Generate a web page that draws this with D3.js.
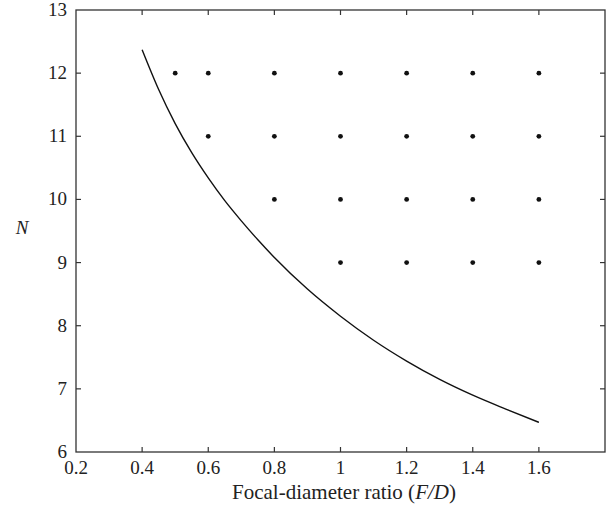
<!DOCTYPE html>
<html>
<head>
<meta charset="utf-8">
<script src="https://cdn.jsdelivr.net/npm/d3@7"></script>
<style>
  body { margin: 0; background: #fff; }
  text { font-family: "Liberation Serif", "DejaVu Serif", serif; fill: #222; }
</style>
</head>
<body>
<svg id="chart"></svg>
<script>
const width = 611;
const height = 516;

// curve: N vs F/D
const curveFD = [0.4, 0.45, 0.5, 0.55, 0.6, 0.65, 0.7, 0.75, 0.8, 0.9, 1.0, 1.1, 1.2, 1.3, 1.4, 1.5, 1.6];
const curveN = [12.37, 11.74, 11.20, 10.74, 10.34, 9.98, 9.66, 9.36, 9.08, 8.58, 8.15, 7.77, 7.44, 7.15, 6.90, 6.68, 6.47];

// feasible design points
const dotFD = [0.5, 0.6, 0.8, 1.0, 1.2, 1.4, 1.6,
               0.6, 0.8, 1.0, 1.2, 1.4, 1.6,
               0.8, 1.0, 1.2, 1.4, 1.6,
               1.0, 1.2, 1.4, 1.6];
const dotN = [12, 12, 12, 12, 12, 12, 12,
              11, 11, 11, 11, 11, 11,
              10, 10, 10, 10, 10,
              9, 9, 9, 9];

const xTicks = [0.2, 0.4, 0.6, 0.8, 1.0, 1.2, 1.4, 1.6];
const yTicks = [6, 7, 8, 9, 10, 11, 12, 13];

const svg = d3.select("#chart").attr("width", width).attr("height", height);

const x = d3.scaleLinear().domain([0.2, 1.8]).range([76, 605]);
const y = d3.scaleLinear().domain([6, 13]).range([452, 10]);

const axisColor = "#333";

// frame
svg.append("rect").attr("x", x(0.2)).attr("y", y(13)).attr("width", x(1.8) - x(0.2)).attr("height", y(6) - y(13))
  .attr("fill", "none").attr("stroke", axisColor).attr("stroke-width", 1.3);

// ticks (inward on all four sides)
const tl = 5;
svg.selectAll(".xtick-b").data(xTicks.slice(1)).enter().append("line").attr("class", "xtick-b")
  .attr("x1", d => x(d)).attr("x2", d => x(d)).attr("y1", y(6)).attr("y2", y(6) - tl).attr("stroke", axisColor).attr("stroke-width", 1.2);
svg.selectAll(".xtick-t").data(xTicks.slice(1)).enter().append("line").attr("class", "xtick-t")
  .attr("x1", d => x(d)).attr("x2", d => x(d)).attr("y1", y(13)).attr("y2", y(13) + tl).attr("stroke", axisColor).attr("stroke-width", 1.2);
svg.selectAll(".ytick-l").data(yTicks.slice(1, -1)).enter().append("line").attr("class", "ytick-l")
  .attr("x1", x(0.2)).attr("x2", x(0.2) + tl).attr("y1", d => y(d)).attr("y2", d => y(d)).attr("stroke", axisColor).attr("stroke-width", 1.2);
svg.selectAll(".ytick-r").data(yTicks.slice(1, -1)).enter().append("line").attr("class", "ytick-r")
  .attr("x1", x(1.8)).attr("x2", x(1.8) - tl).attr("y1", d => y(d)).attr("y2", d => y(d)).attr("stroke", axisColor).attr("stroke-width", 1.2);

// tick labels
svg.selectAll(".xlab").data(xTicks).enter().append("text").attr("class", "xlab")
  .attr("x", d => x(d)).attr("y", y(6) + 22).attr("text-anchor", "middle").style("font-size", "19px")
  .text(d => d === 1 ? "1" : d3.format(".1f")(d));
svg.selectAll(".ylab").data(yTicks).enter().append("text").attr("class", "ylab")
  .attr("x", x(0.2) - 9).attr("y", d => y(d) + 6).attr("text-anchor", "end").style("font-size", "19px")
  .text(d => d);

// axis titles
svg.append("text").attr("x", 22).attr("y", 234).attr("text-anchor", "middle")
  .style("font-size", "19px").style("font-style", "italic").text("N");
const xt = svg.append("text").attr("x", 344).attr("y", 499).attr("text-anchor", "middle").style("font-size", "21px");
xt.append("tspan").text("Focal-diameter ratio (");
xt.append("tspan").style("font-style", "italic").text("F/D");
xt.append("tspan").text(")");

// curve
const line = d3.line().x(d => x(d[0])).y(d => y(d[1])).curve(d3.curveMonotoneX);
svg.append("path").datum(curveFD.map((v, i) => [v, curveN[i]]))
  .attr("d", line).attr("fill", "none").attr("stroke", "#111").attr("stroke-width", 1.4);

// dots
svg.selectAll(".dot").data(dotFD.map((v, i) => [v, dotN[i]])).enter().append("circle").attr("class", "dot")
  .attr("cx", d => x(d[0])).attr("cy", d => y(d[1])).attr("r", 2.4).attr("fill", "#111");
</script>
</body>
</html>
